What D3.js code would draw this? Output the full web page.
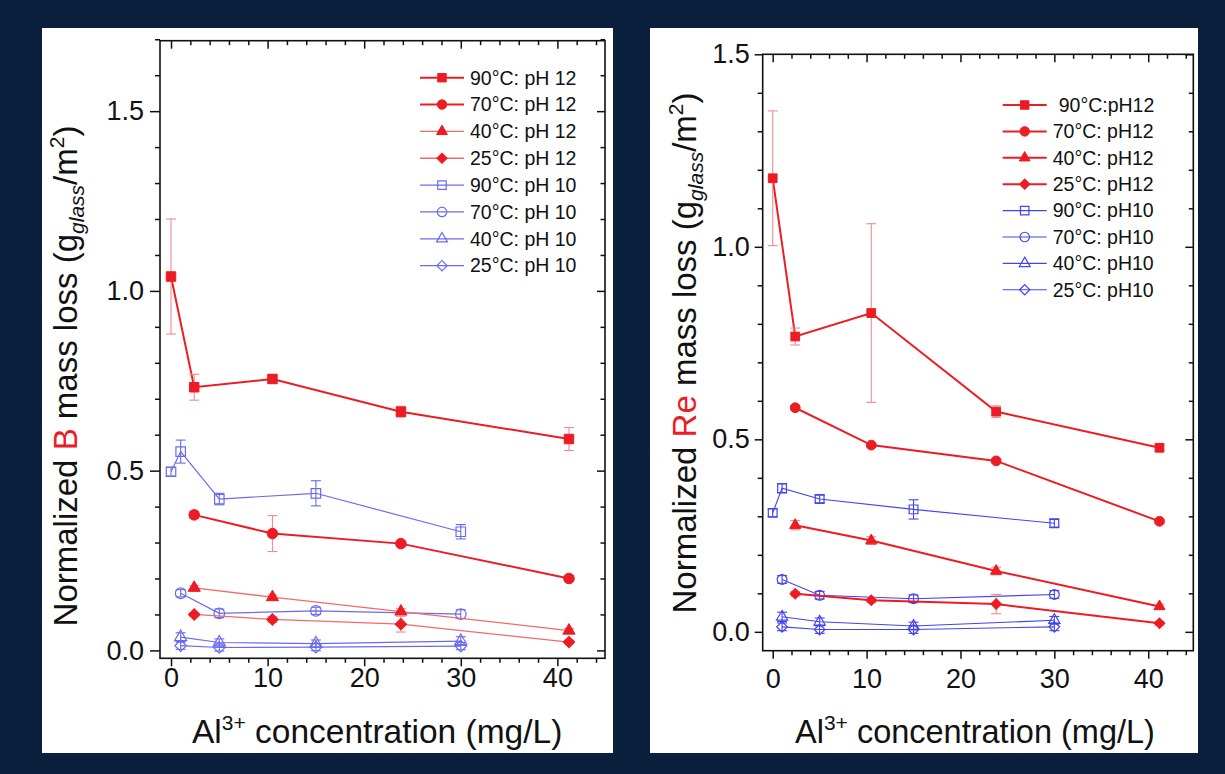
<!DOCTYPE html>
<meta charset="utf-8">
<style>
body { margin: 0; background: #0a1f3c; }
svg { display: block; font-family: "Liberation Sans", Arial, sans-serif; }
.axis path { display: none; }
.axis line { stroke: #111; stroke-width: 1.5; }
.axis text { fill: #111; }
</style>
<svg id="chart" width="1225" height="774"></svg>
<script src="https://cdn.jsdelivr.net/npm/d3@7/dist/d3.min.js"></script>
<script>

// Al3+ concentration (mg/L)
var alPH12 = [0, 2.4, 10.5, 23.8, 41.2],
    alPH12b = [2.4, 10.5, 23.8, 41.2],
    alPH10 = [0, 1, 5, 15, 30],
    alPH10b = [1, 5, 15, 30];

// normalized B mass loss (g/m2)
var b90pH12 = [1.04, 0.732, 0.755, 0.664, 0.588],
    b90pH12Err = [0.16, 0.036, 0.012, 0.015, 0.032],
    b70pH12 = [0.377, 0.325, 0.297, 0.200],
    b70pH12Err = [0.01, 0.05, 0.008, 0.008],
    b40pH12 = [0.174, 0.148, 0.108, 0.055],
    b40pH12Err = [0.006, 0.006, 0.008, 0.006],
    b25pH12 = [0.100, 0.086, 0.073, 0.023],
    b25pH12Err = [0.005, 0.008, 0.022, 0.005],
    b90pH10 = [0.497, 0.553, 0.421, 0.437, 0.330],
    b90pH10Err = [0.012, 0.032, 0.016, 0.035, 0.02],
    b70pH10 = [0.159, 0.103, 0.110, 0.101],
    b70pH10Err = [0.01, 0.012, 0.01, 0.012],
    b40pH10 = [0.037, 0.022, 0.019, 0.026],
    b40pH10Err = [0.012, 0.01, 0.01, 0.012],
    b25pH10 = [0.013, 0.008, 0.009, 0.012],
    b25pH10Err = [0.01, 0.01, 0.01, 0.01];

// normalized Re mass loss (g/m2)
var re90pH12 = [1.178, 0.767, 0.828, 0.572, 0.478],
    re90pH12Err = [0.175, 0.022, 0.232, 0.015, 0.008],
    re70pH12 = [0.582, 0.485, 0.444, 0.287],
    re70pH12Err = [0.006, 0.006, 0.006, 0.006],
    re40pH12 = [0.277, 0.237, 0.158, 0.066],
    re40pH12Err = [0.012, 0.01, 0.01, 0.006],
    re25pH12 = [0.099, 0.082, 0.072, 0.022],
    re25pH12Err = [0.006, 0.006, 0.025, 0.005],
    re90pH10 = [0.309, 0.373, 0.345, 0.318, 0.282],
    re90pH10Err = [0.01, 0.012, 0.01, 0.025, 0.01],
    re70pH10 = [0.136, 0.095, 0.086, 0.097],
    re70pH10Err = [0.01, 0.01, 0.01, 0.01],
    re40pH10 = [0.039, 0.026, 0.015, 0.030],
    re40pH10Err = [0.012, 0.01, 0.01, 0.01],
    re25pH10 = [0.013, 0.006, 0.006, 0.013],
    re25pH10Err = [0.01, 0.01, 0.01, 0.01];

var namesB = ["90°C: pH 12", "70°C: pH 12", "40°C: pH 12", "25°C: pH 12",
              "90°C: pH 10", "70°C: pH 10", "40°C: pH 10", "25°C: pH 10"],
    namesRe = ["90°C:pH12", "70°C: pH12", "40°C: pH12", "25°C: pH12",
               "90°C: pH10", "70°C: pH10", "40°C: pH10", "25°C: pH10"];

var red = "#ec1c24", redLight = "#f26a6a", redErr = "#f28c8c";

var svg = d3.select("svg");

// white panels
svg.append("rect").attr("x", 42).attr("y", 28).attr("width", 571).attr("height", 725).attr("fill", "#fff");
svg.append("rect").attr("x", 650).attr("y", 28).attr("width", 548).attr("height", 725).attr("fill", "#fff");

function makeSeries(xs, ys, errs, label, shape, filled, color, lw, errColor, mkColor) {
  return {
    label: label, shape: shape, filled: filled, color: color, lw: lw, errColor: errColor,
    mkColor: mkColor || color,
    pts: xs.map(function(x, i) { return {x: x, y: ys[i], e: errs[i]}; })
  };
}

var blueB = "#6a6af0", blueRe = "#4444ee";

var seriesB = [
  makeSeries(alPH12, b90pH12, b90pH12Err, namesB[0], "square", true, red, 2, redErr),
  makeSeries(alPH12b, b70pH12, b70pH12Err, namesB[1], "circle", true, red, 2, redErr),
  makeSeries(alPH12b, b40pH12, b40pH12Err, namesB[2], "triangle", true, redLight, 1.3, redErr, red),
  makeSeries(alPH12b, b25pH12, b25pH12Err, namesB[3], "diamond", true, redLight, 1.3, redErr, red),
  makeSeries(alPH10, b90pH10, b90pH10Err, namesB[4], "square", false, blueB, 1.2, blueB),
  makeSeries(alPH10b, b70pH10, b70pH10Err, namesB[5], "circle", false, blueB, 1.2, blueB),
  makeSeries(alPH10b, b40pH10, b40pH10Err, namesB[6], "triangle", false, blueB, 1.2, blueB),
  makeSeries(alPH10b, b25pH10, b25pH10Err, namesB[7], "diamond", false, blueB, 1.2, blueB)
];

var seriesRe = [
  makeSeries(alPH12, re90pH12, re90pH12Err, namesRe[0], "square", true, red, 2, redErr),
  makeSeries(alPH12b, re70pH12, re70pH12Err, namesRe[1], "circle", true, red, 2, redErr),
  makeSeries(alPH12b, re40pH12, re40pH12Err, namesRe[2], "triangle", true, red, 2, redErr),
  makeSeries(alPH12b, re25pH12, re25pH12Err, namesRe[3], "diamond", true, red, 2, redErr),
  makeSeries(alPH10, re90pH10, re90pH10Err, namesRe[4], "square", false, blueRe, 1.1, blueRe),
  makeSeries(alPH10b, re70pH10, re70pH10Err, namesRe[5], "circle", false, blueRe, 1.1, blueRe),
  makeSeries(alPH10b, re40pH10, re40pH10Err, namesRe[6], "triangle", false, blueRe, 1.1, blueRe),
  makeSeries(alPH10b, re25pH10, re25pH10Err, namesRe[7], "diamond", false, blueRe, 1.1, blueRe)
];

var shapes = {
  square: d3.symbolSquare, circle: d3.symbolCircle,
  triangle: d3.symbolTriangle, diamond: d3.symbolSquare
};

function marker(sel, s, scale) {
  var k = scale || 1;
  var area = {square: 90, circle: 88, triangle: 64, diamond: 66}[s.shape] * k;
  sel.attr("d", d3.symbol().type(shapes[s.shape]).size(area)())
     .attr("fill", s.filled ? s.mkColor : "none")
     .attr("stroke", s.mkColor)
     .attr("stroke-width", s.filled ? 1 : 1.2);
}

function drawPanel(p) {
  var x = d3.scaleLinear().domain(p.xDomain).range([p.left, p.right]),
      y = d3.scaleLinear().domain(p.yDomain).range([p.bottom, p.top]);
  var g = svg.append("g");

  var xMajor = [0, 10, 20, 30, 40],
      xMinor = d3.range(2, 45, 2).filter(function(v) { return v % 10 !== 0; }),
      yMajor = d3.range(0, p.yMax + 0.01, 0.5),
      yMinor = d3.range(0, p.yMax + 0.01, 0.1).map(function(v) { return +v.toFixed(1); })
                 .filter(function(v) { return Math.abs(v * 2 - Math.round(v * 2)) > 1e-6; });

  // bottom axis
  g.append("g").attr("class", "axis").attr("transform", "translate(0," + p.bottom + ")")
    .call(d3.axisBottom(x).tickValues(xMajor).tickSize(8).tickPadding(p.xPad).tickFormat(d3.format("d")))
    .selectAll("text").style("font-size", "27px");
  g.append("g").attr("class", "axis").attr("transform", "translate(0," + p.bottom + ")")
    .call(d3.axisBottom(x).tickValues(xMinor).tickSize(4.5).tickFormat(""));
  // top axis (inward)
  g.append("g").attr("class", "axis").attr("transform", "translate(0," + p.top + ")")
    .call(d3.axisTop(x).tickValues(xMajor).tickSize(-8).tickFormat(""));
  g.append("g").attr("class", "axis").attr("transform", "translate(0," + p.top + ")")
    .call(d3.axisTop(x).tickValues(xMinor).tickSize(-4.5).tickFormat(""));
  // left axis
  g.append("g").attr("class", "axis").attr("transform", "translate(" + p.left + ",0)")
    .call(d3.axisLeft(y).tickValues(yMajor).tickSize(p.yTick).tickPadding(p.yPad).tickFormat(d3.format(".1f")))
    .selectAll("text").style("font-size", "27px");
  g.append("g").attr("class", "axis").attr("transform", "translate(" + p.left + ",0)")
    .call(d3.axisLeft(y).tickValues(yMinor).tickSize(5).tickFormat(""));
  // right axis (inward)
  g.append("g").attr("class", "axis").attr("transform", "translate(" + p.right + ",0)")
    .call(d3.axisRight(y).tickValues(yMajor).tickSize(-8).tickFormat(""));
  g.append("g").attr("class", "axis").attr("transform", "translate(" + p.right + ",0)")
    .call(d3.axisRight(y).tickValues(yMinor).tickSize(-4.5).tickFormat(""));

  g.append("rect")
    .attr("x", p.left).attr("y", p.top)
    .attr("width", p.right - p.left).attr("height", p.bottom - p.top)
    .attr("fill", "none").attr("stroke", "#111").attr("stroke-width", 1.6);

  var line = d3.line().x(function(d) { return x(d.x); }).y(function(d) { return y(d.y); });

  // pH 10 first, pH 12 on top
  var order = p.series.slice(4).concat(p.series.slice(0, 4));

  order.forEach(function(s) {
    var sg = g.append("g");
    sg.append("path").datum(s.pts).attr("d", line)
      .attr("fill", "none").attr("stroke", s.color).attr("stroke-width", s.lw);

    var eb = sg.selectAll(".err").data(s.pts).enter().append("g")
      .attr("stroke", s.errColor).attr("stroke-width", 1.1);
    eb.append("line")
      .attr("x1", function(d) { return x(d.x); }).attr("x2", function(d) { return x(d.x); })
      .attr("y1", function(d) { return y(d.y + d.e); }).attr("y2", function(d) { return y(d.y - d.e); });
    eb.append("line")
      .attr("x1", function(d) { return x(d.x) - 5; }).attr("x2", function(d) { return x(d.x) + 5; })
      .attr("y1", function(d) { return y(d.y + d.e); }).attr("y2", function(d) { return y(d.y + d.e); });
    eb.append("line")
      .attr("x1", function(d) { return x(d.x) - 5; }).attr("x2", function(d) { return x(d.x) + 5; })
      .attr("y1", function(d) { return y(d.y - d.e); }).attr("y2", function(d) { return y(d.y - d.e); });

    sg.selectAll(".mk").data(s.pts).enter().append("path")
      .attr("transform", function(d) {
        return "translate(" + x(d.x) + "," + y(d.y) + ")" + (s.shape === "diamond" ? " rotate(45)" : "");
      })
      .call(marker, s, p.mk);
  });

  // legend
  var lg = g.append("g");
  p.series.forEach(function(s, i) {
    var ly = p.legY + i * p.legDy;
    lg.append("line").attr("x1", p.legX).attr("x2", p.legX + 44)
      .attr("y1", ly).attr("y2", ly)
      .attr("stroke", s.color).attr("stroke-width", s.lw);
    lg.append("path")
      .attr("transform", "translate(" + (p.legX + 22) + "," + ly + ")" + (s.shape === "diamond" ? " rotate(45)" : ""))
      .call(marker, s, 0.8);
    lg.append("text").attr("x", p.legX + 50 + (i === 0 ? p.legFirst : 0)).attr("y", ly).attr("dy", "0.35em")
      .style("font-size", "19.5px").attr("fill", "#111").text(s.label);
  });

  // y label
  var yl = g.append("text")
    .attr("transform", "translate(" + p.ylX + "," + p.ylY + ") rotate(-90)")
    .attr("text-anchor", "middle").style("font-size", "33px").attr("fill", "#111");
  yl.append("tspan").text("Normalized ");
  yl.append("tspan").attr("fill", red).text(p.elem);
  yl.append("tspan").text(" mass loss (g");
  yl.append("tspan").attr("dy", 7).style("font-size", "21px").style("font-style", "italic").text("glass");
  yl.append("tspan").attr("dy", -7).text("/m");
  yl.append("tspan").attr("dy", -13).style("font-size", "21px").text("2");
  yl.append("tspan").attr("dy", 13).text(")");

  // x label
  var xl = g.append("text").attr("x", p.xlX).attr("y", 743)
    .style("font-size", p.xlSize + "px").attr("fill", "#111");
  xl.append("tspan").text("Al");
  xl.append("tspan").attr("dy", -13).style("font-size", "21px").text("3+");
  xl.append("tspan").attr("dy", 13).text(" concentration (mg/L)");
}

drawPanel({
  series: seriesB, elem: "B",
  left: 160, right: 605, top: 40.7, bottom: 658.3,
  xDomain: [-1.14, 44.93], yDomain: [-0.022, 1.696], yMax: 1.7,
  xPad: 2, yTick: 10, yPad: 6, mk: 1,
  legX: 420, legY: 77.7, legDy: 26.85, legFirst: 0,
  ylX: 76.5, ylY: 376, xlX: 192, xlSize: 33.5
});

drawPanel({
  series: seriesRe, elem: "Re",
  left: 762.7, right: 1193.3, top: 54.3, bottom: 650.7,
  xDomain: [-1.065, 44.8], yDomain: [-0.049, 1.5], yMax: 1.5,
  xPad: 10, yTick: 8, yPad: 5, mk: 0.85,
  legX: 1002.7, legY: 105, legDy: 26.4, legFirst: 6,
  ylX: 695.5, ylY: 353, xlX: 795, xlSize: 32.5
});

</script>
